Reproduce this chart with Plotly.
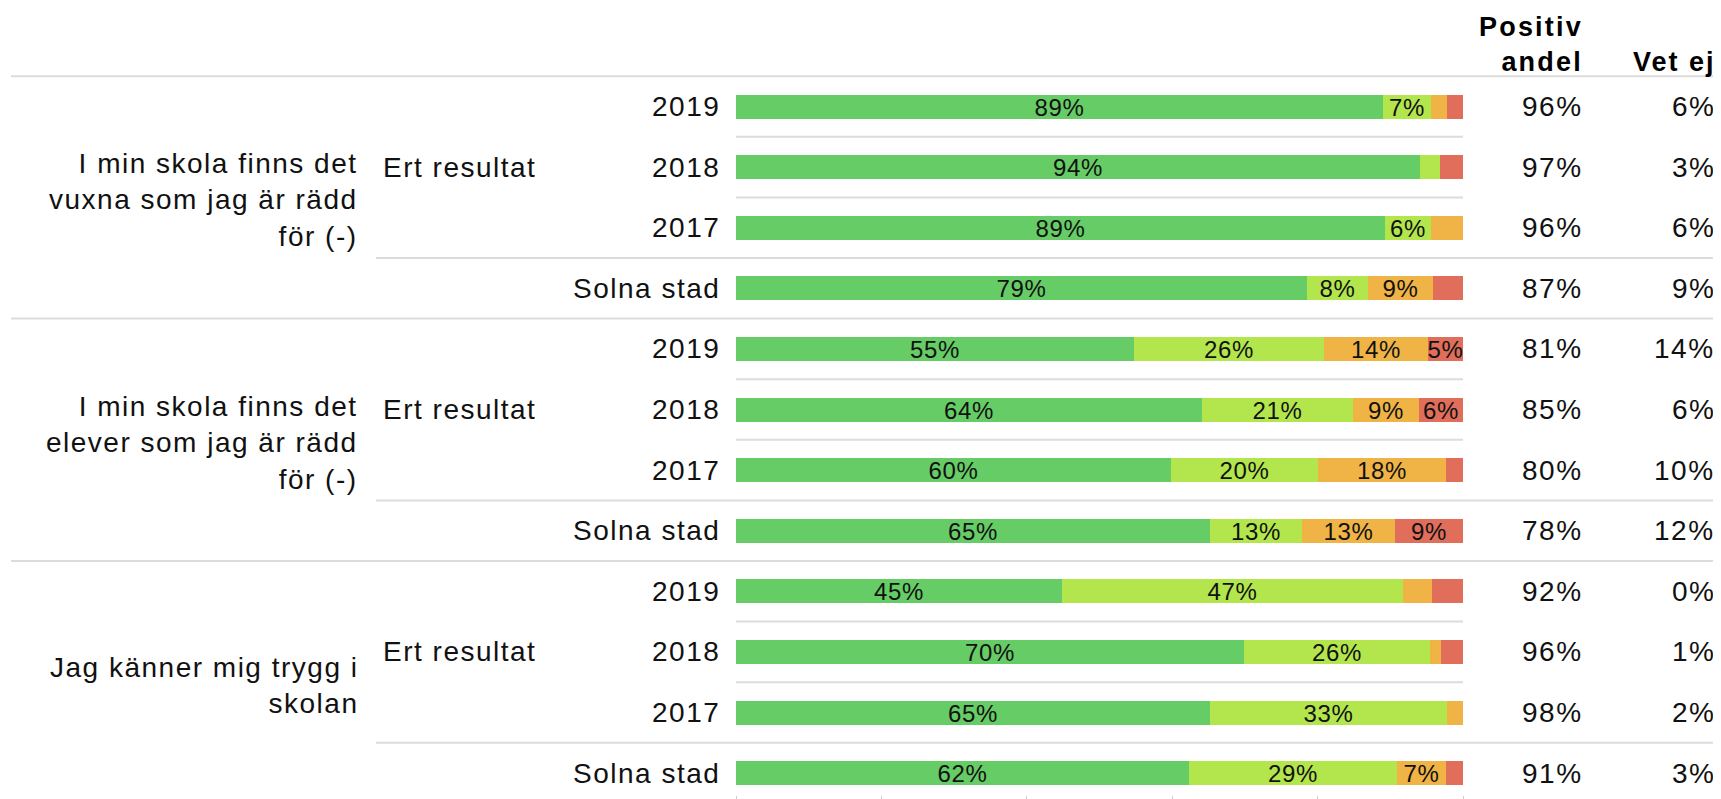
import plotly.graph_objects as go

# page is 1721x799; html body has an 8px margin, so the figure is offset by 8px
OFF = 8
W, H = 1721 - OFF, 799 - OFF

questions = [
    "I min skola finns det<br>vuxna som jag är rädd<br>för (-)",
    "I min skola finns det<br>elever som jag är rädd<br>för (-)",
    "Jag känner mig trygg i<br>skolan",
]
group_label = "Ert resultat"
row_labels = ["2019", "2018", "2017", "Solna stad"] * 3

green = [89.0, 94.1, 89.3, 78.6, 54.7, 64.1, 59.8, 65.2, 44.8, 69.9, 65.2, 62.3]
light = [6.6, 2.8, 6.3, 8.3, 26.2, 20.8, 20.2, 12.7, 46.9, 25.6, 32.6, 28.6]
orange = [2.2, 0.0, 4.4, 9.0, 14.3, 9.0, 17.7, 12.8, 4.0, 1.5, 2.2, 6.8]
red = [2.2, 3.1, 0.0, 4.1, 4.8, 6.1, 2.3, 9.3, 4.3, 3.0, 0.0, 2.3]

positive = [96, 97, 96, 87, 81, 85, 80, 78, 92, 96, 98, 91]
vet_ej = [6, 3, 6, 9, 14, 6, 10, 12, 0, 1, 2, 3]

colors = ["#66CC66", "#B3E64D", "#F0B446", "#E06E5A"]
FONT = "Liberation Sans, Arial, sans-serif"
TXT = "#111111"

# geometry (page pixels)
bar_left, bar_right = 736, 1463
row0, row_step = 106.5, 60.6
dom_bottom = 795
rows = list(range(len(green)))
y_top = -(row0 - OFF) / row_step
y_bot = (dom_bottom - row0) / row_step


def px(x):
    return (x - OFF) / W


def py(y):
    return 1 - (y - OFF) / H


def ls(text, sp):
    return "<br>".join(f"<span style='letter-spacing:{sp}px'>{t}</span>" for t in text.split("<br>"))


fig = go.Figure()
for vals, col in zip([green, light, orange, red], colors):
    fig.add_trace(go.Bar(
        x=vals, y=rows, orientation="h", width=24 / row_step,
        marker=dict(color=col, line=dict(width=0)),
        text=[ls(f"{round(v)}%", 0.6) if v >= 4.5 else "" for v in vals],
        textposition="inside", insidetextanchor="middle", textangle=0,
        textfont=dict(family=FONT, size=24, color=TXT),
        hoverinfo="skip", showlegend=False,
    ))

shapes = []
line_col = "#DCDCDC"
for i in range(len(rows)):
    yb = i - 0.5
    pos = i % 4
    if pos == 0:
        x0, x1 = px(11), 1
    elif pos == 3:
        x0, x1 = px(376), 1
    else:
        x0, x1 = px(bar_left), px(bar_right)
    shapes.append(dict(type="line", xref="paper", yref="y", x0=x0, x1=x1,
                       y0=yb, y1=yb, line=dict(color=line_col, width=2)))

ann = []
FS = 28
SP = 1.5
for g, q in enumerate(questions):
    ann.append(dict(text=ls(q, SP), xref="paper", yref="y", x=px(360), y=g * 4 + 1.55,
                    xanchor="right", yanchor="middle", align="right", showarrow=False,
                    font=dict(family=FONT, size=FS, color=TXT)))
    ann.append(dict(text=ls(group_label, SP), xref="paper", yref="y", x=px(381), y=g * 4 + 1,
                    xanchor="left", yanchor="middle", align="left", showarrow=False,
                    font=dict(family=FONT, size=FS, color=TXT)))
for i, lab in enumerate(row_labels):
    ann.append(dict(text=ls(lab, SP), xref="paper", yref="y", x=px(722), y=i,
                    xanchor="right", yanchor="middle", showarrow=False,
                    font=dict(family=FONT, size=FS, color=TXT)))
    ann.append(dict(text=ls(f"{positive[i]}%", SP), xref="paper", yref="y", x=px(1585), y=i,
                    xanchor="right", yanchor="middle", showarrow=False,
                    font=dict(family=FONT, size=FS, color=TXT)))
    ann.append(dict(text=ls(f"{vet_ej[i]}%", SP), xref="paper", yref="y", x=px(1717), y=i,
                    xanchor="right", yanchor="middle", showarrow=False,
                    font=dict(family=FONT, size=FS, color=TXT)))

ann.append(dict(text="<b>" + ls("Positiv<br>andel", 2.2) + "</b>", xref="paper", yref="paper",
                x=px(1585), y=py(44), xanchor="right", yanchor="middle", align="right",
                showarrow=False, font=dict(family=FONT, size=27, color="#000")))
ann.append(dict(text="<b>" + ls("Vet ej", 2.0) + "</b>", xref="paper", yref="paper",
                x=px(1718), y=py(61.5), xanchor="right", yanchor="middle", align="right",
                showarrow=False, font=dict(family=FONT, size=27, color="#000")))

fig.update_layout(
    width=W, height=H, autosize=False,
    margin=dict(l=0, r=0, t=0, b=0, pad=0),
    barmode="stack", bargap=0,
    paper_bgcolor="white", plot_bgcolor="white",
    uniformtext=dict(minsize=24, mode="show"),
    xaxis=dict(domain=[px(bar_left), px(bar_right)], range=[0, 100],
               showgrid=False, zeroline=False, showline=False,
               ticks="outside", tickvals=[0, 20, 40, 60, 80, 100], ticklen=4,
               tickwidth=1, tickcolor="#CCCCCC", showticklabels=False, fixedrange=True),
    yaxis=dict(domain=[py(dom_bottom), 1], range=[y_bot, y_top], visible=False,
               fixedrange=True),
    shapes=shapes, annotations=ann,
    font=dict(family=FONT),
)

fig.write_html("out.html")
